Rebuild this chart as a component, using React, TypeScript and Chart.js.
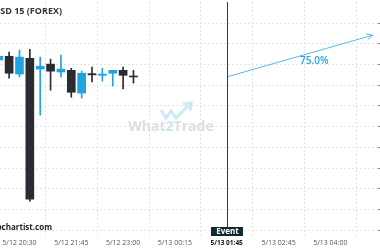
import React, { useEffect, useRef } from "react";
import { Chart, registerables } from "chart.js";

Chart.register(...registerables);

// ---- data ----
const candleTimes = [
  "5/12 20:00", "5/12 20:15", "5/12 20:30", "5/12 20:45", "5/12 21:00", "5/12 21:15", "5/12 21:30",
  "5/12 21:45", "5/12 22:00", "5/12 22:15", "5/12 22:30", "5/12 22:45", "5/12 23:00", "5/12 23:15",
];
const opens = [1.25511, 1.2552, 1.25477, 1.25515, 1.25489, 1.25501, 1.25482, 1.25486, 1.25431, 1.25478, 1.25474, 1.25479, 1.25486, 1.25472];
const highs = [1.25523, 1.2553, 1.25535, 1.25537, 1.25518, 1.25513, 1.25523, 1.25491, 1.25484, 1.25494, 1.25491, 1.25486, 1.25494, 1.25486];
const lows = [1.25506, 1.25467, 1.2547, 1.2517, 1.25378, 1.25438, 1.2547, 1.25421, 1.25419, 1.25458, 1.2546, 1.25448, 1.25441, 1.25455];
const closes = [1.2552, 1.25479, 1.25518, 1.25175, 1.25496, 1.25484, 1.25489, 1.25433, 1.25479, 1.25475, 1.25477, 1.25486, 1.25474, 1.2547];

const tickSteps = [2, 7, 12, 17, 22, 27, 32];
const tickLabels = ["5/12 20:30", "5/12 21:45", "5/12 23:00", "5/13 00:15", "5/13 01:45", "5/13 02:45", "5/13 04:00"];
const priceTicks = [1.251, 1.2515, 1.252, 1.2525, 1.253, 1.2535, 1.254, 1.2545, 1.255, 1.2555, 1.256];

const eventStep = 22;
const eventLabel = "Event";
const forecastStart = { x: 22, y: 1.2547 };
const forecastEnd = { x: 36.1, y: 1.25571 };
const forecastText = "75.0%";
const titleText = "USD 15 (FOREX)";
const sourceText = "autochartist.com";
const watermarkA = "What";
const watermarkB = "2";
const watermarkC = "Trade";

const DARK = "#2b2c31";
const BLUE = "#1ea4e0";

const overlayPlugin = {
  id: "overlay",
  beforeDatasetsDraw(chart: any) {
    const { ctx } = chart;
    ctx.save();
    // watermark
    ctx.font = "bold 14px 'Open Sans'";
    ctx.textBaseline = "middle";
    ctx.textAlign = "left";
    const wA = ctx.measureText(watermarkA).width;
    const wB = ctx.measureText(watermarkB).width;
    const wC = ctx.measureText(watermarkC).width;
    const total = wA + wB + wC;
    let x0 = 171 - total / 2;
    const ty = 127;
    ctx.fillStyle = "#dedede";
    ctx.fillText(watermarkA, x0, ty);
    ctx.fillStyle = "#c8e6f5";
    ctx.fillText(watermarkB, x0 + wA, ty);
    ctx.fillStyle = "#dedede";
    ctx.fillText(watermarkC, x0 + wA + wB, ty);
    // logo
    ctx.strokeStyle = "#cfe9f7";
    ctx.lineWidth = 3;
    ctx.lineJoin = "miter";
    ctx.beginPath();
    ctx.moveTo(161, 110);
    ctx.lineTo(166, 118);
    ctx.lineTo(171, 111);
    ctx.lineTo(176, 118);
    ctx.lineTo(189, 105);
    ctx.stroke();
    ctx.beginPath();
    ctx.moveTo(183, 104);
    ctx.lineTo(191, 103);
    ctx.lineTo(190, 111);
    ctx.stroke();
    ctx.restore();
  },
  afterDraw(chart: any) {
    const { ctx, chartArea } = chart;
    const xs = chart.scales.x;
    ctx.save();
    // event line
    const ex = Math.round(xs.getPixelForValue(eventStep)) + 0.5;
    ctx.strokeStyle = "#2d3b42";
    ctx.lineWidth = 1;
    ctx.beginPath();
    ctx.moveTo(ex, chartArea.top);
    ctx.lineTo(ex, 227);
    ctx.stroke();
    // event box
    ctx.fillStyle = "#0f2a31";
    ctx.fillRect(ex - 16.5, 227, 32, 9);
    ctx.fillStyle = "#ffffff";
    ctx.font = "bold 8px 'Open Sans'";
    ctx.textAlign = "center";
    ctx.textBaseline = "middle";
    ctx.fillText(eventLabel, ex, 231.5);

    // arrowhead + label
    const meta = chart.getDatasetMeta(2);
    const p0 = meta.data[0];
    const p1 = meta.data[1];
    const ang = Math.atan2(p1.y - p0.y, p1.x - p0.x);
    ctx.strokeStyle = "#55bbe8";
    ctx.lineWidth = 1;
    ctx.beginPath();
    const L = 7;
    ctx.moveTo(p1.x - L * Math.cos(ang - 0.45), p1.y - L * Math.sin(ang - 0.45));
    ctx.lineTo(p1.x, p1.y);
    ctx.lineTo(p1.x - L * Math.cos(ang + 0.45), p1.y - L * Math.sin(ang + 0.45));
    ctx.stroke();
    const t = 0.6;
    const lx = p0.x + (p1.x - p0.x) * t;
    const ly = p0.y + (p1.y - p0.y) * t;
    ctx.fillStyle = "#26a6df";
    ctx.font = "600 10px 'Open Sans'";
    ctx.textAlign = "center";
    ctx.fillText(forecastText, lx, ly + 9);

    // title
    ctx.fillStyle = "#333333";
    ctx.font = "bold 9px 'Open Sans'";
    ctx.textAlign = "right";
    ctx.fillText(titleText, 62, 11);
    // source
    ctx.fillStyle = "#222222";
    ctx.font = "bold 8px 'Open Sans'";
    ctx.fillText(sourceText, 52, 228);
    ctx.restore();
  },
};

export default function App() {
  const ref = useRef<HTMLCanvasElement>(null);
  useEffect(() => {
    if (!ref.current) return;
    const bodies = candleTimes.map((_, i) => ({ x: i, y: [opens[i], closes[i]] }));
    const wicks = candleTimes.map((_, i) => ({ x: i, y: [lows[i], highs[i]] }));
    const colorFor = (ctx: any) => {
      const i = ctx.dataIndex;
      return closes[i] >= opens[i] ? BLUE : DARK;
    };
    const chart = new Chart(ref.current, {
      type: "bar",
      data: {
        datasets: [
          {
            label: "body",
            data: bodies as any,
            backgroundColor: colorFor,
            barThickness: 8,
            grouped: false,
            minBarLength: 1,
            order: 1,
          } as any,
          {
            label: "wick",
            data: wicks as any,
            backgroundColor: colorFor,
            barThickness: 1,
            grouped: false,
            order: 2,
          } as any,
          {
            type: "line",
            label: "forecast",
            data: [forecastStart, forecastEnd] as any,
            borderColor: "#55bbe8",
            borderWidth: 1,
            pointRadius: 0,
            order: 0,
          } as any,
        ],
      },
      options: {
        animation: false,
        responsive: false,
        maintainAspectRatio: false,
        layout: { padding: { left: 0, right: 0, top: 2, bottom: 0 } },
        plugins: { legend: { display: false }, tooltip: { enabled: false } },
        scales: {
          x: {
            type: "linear",
            min: 0.12,
            max: 36.6,
            offset: false,
            afterBuildTicks: (axis: any) => {
              axis.ticks = tickSteps.map((v) => ({ value: v }));
            },
            afterFit: (axis: any) => {
              axis.height = 14;
              axis.paddingLeft = 0;
              axis.paddingRight = 0;
            },
            grid: { color: "#e4e4e4", drawTicks: false },
            border: { display: false, dash: [2, 2] },
            ticks: {
              padding: 3,
              maxRotation: 0,
              autoSkip: false,
              color: (c: any) => (c.tick && c.tick.value === eventStep ? "#111111" : "#555555"),
              font: (c: any) =>
                c.tick && c.tick.value === eventStep
                  ? { family: "'Open Sans'", size: 6.5, weight: "bold" }
                  : { family: "'Open Sans'", size: 7 },
              callback: (v: any) => {
                const k = tickSteps.indexOf(Number(v));
                return k >= 0 ? tickLabels[k] : "";
              },
            },
          } as any,
          y: {
            type: "linear",
            position: "right",
            min: 1.25086,
            max: 1.25651,
            afterBuildTicks: (axis: any) => {
              axis.ticks = priceTicks.map((v) => ({ value: v }));
            },
            afterFit: (axis: any) => {
              axis.width = 52;
              axis.paddingTop = 0;
              axis.paddingBottom = 0;
            },
            grid: { color: "#e4e4e4", tickLength: 3, tickColor: "#888888", drawTicks: true },
            border: { display: false, dash: [2, 2] },
            ticks: {
              color: "#555555",
              font: { family: "'Open Sans'", size: 7 },
              callback: (v: any) => Number(v).toFixed(5),
            },
          } as any,
        },
      },
      plugins: [overlayPlugin],
    });
    return () => chart.destroy();
  }, []);
  return (
    <div style={{ position: "fixed", left: 0, top: 0, width: 380, height: 250, overflow: "hidden", background: "#fff" }}>
      <canvas ref={ref} width={430} height={250} style={{ display: "block", width: 430, height: 250 }} />
    </div>
  );
}
